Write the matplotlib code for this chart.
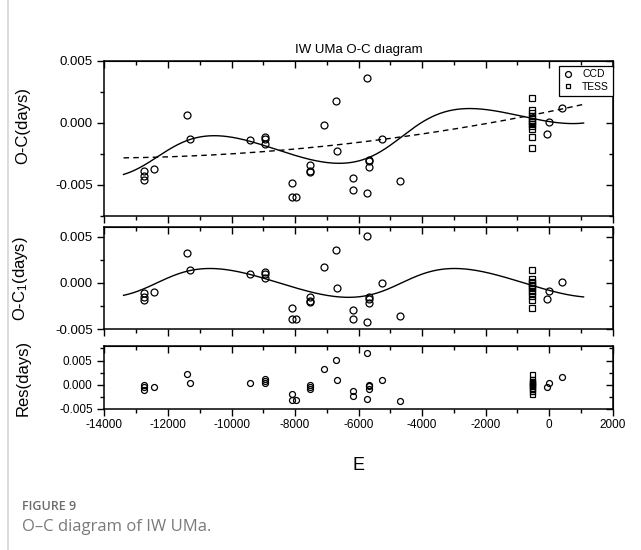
import numpy as np
import matplotlib
matplotlib.use("Agg")
import matplotlib.pyplot as plt
from matplotlib.ticker import MultipleLocator

plt.rcParams["font.family"] = ["Liberation Sans", "DejaVu Sans"]
plt.rcParams["mathtext.default"] = "regular"
plt.rcParams["axes.unicode_minus"] = False

# CCD minima: epoch, O-C, O-C1 (after quadratic), residuals
e_ccd = [-12746, -12746, -12746, -12431, -11411, -11298, -9427, -8935, -8935, -8935,
         -8104, -8085, -7968, -7537, -7537, -7537, -7087, -6699, -6677, -6183, -6183,
         -5742, -5723, -5679, -5679, -5679, -5269, -4693, -85, -9, 400]
oc_ccd = [-0.00389, -0.00427, -0.00465, -0.00373, 0.00062, -0.00129, -0.00137, -0.00113,
          -0.00129, -0.00172, -0.00484, -0.00602, -0.00602, -0.00341, -0.00389, -0.00398,
          -0.00016, 0.00175, -0.00226, -0.00446, -0.00543, -0.00567, 0.00363, -0.00296,
          -0.00310, -0.00355, -0.00132, -0.00468, -0.00086, 0.00006, 0.00123]
oc1_ccd = [-0.00108, -0.00150, -0.00189, -0.00100, 0.00327, 0.00137, 0.00097, 0.00115,
           0.00097, 0.00054, -0.00275, -0.00394, -0.00394, -0.00150, -0.00197, -0.00204,
           0.00172, 0.00352, -0.00054, -0.00293, -0.00387, -0.00423, 0.00510, -0.00150,
           -0.00170, -0.00215, -0.00003, -0.00358, -0.00175, -0.00086, 0.00008]
res_ccd = [-0.0001, -0.0005, -0.0010, -0.0005, 0.0023, 0.0003, 0.0003, 0.00115, 0.0007,
           0.0003, -0.00185, -0.0031, -0.0031, -0.0001, -0.0005, -0.0009, 0.0032, 0.0051,
           0.0010, -0.0013, -0.0023, -0.0029, 0.0066, 0.0000, -0.0003, -0.0008, 0.0010,
           -0.0033, -0.0005, 0.0004, 0.0016]

# TESS minima
e_tess = [-536, -536, -535, -535, -535, -535, -535, -535, -534, -534, -534, -534]
oc_tess = [0.00204, 0.00105, 0.00078, 0.00059, 0.00038, 0.00019, 0.00006, -0.00008,
           -0.00027, -0.00048, -0.00115, -0.00199]
oc1_tess = [0.00137, 0.00037, 0.00010, -0.00006, -0.00020, -0.00035, -0.00060, -0.00086,
            -0.00114, -0.00140, -0.00186, -0.00269]
res_tess = [0.0022, 0.0012, 0.0008, 0.0005, 0.0003, 0.0001, -0.0001, -0.0003, -0.0006,
            -0.0009, -0.0013, -0.0019]

# fitted models: quadratic ephemeris term and light-travel-time orbit
quad_coef = [0.00091, 5.24e-7, 1.83e-11]          # c0, c1, c2
lite_amp, lite_ecc, lite_omega = 0.00159, 0.21, 0.0
lite_period, lite_t0 = 7700.0, -4650.0
fit_range = (-13400, 1080)


def quadratic(E):
    return quad_coef[0] + quad_coef[1] * E + quad_coef[2] * E ** 2


def lite(E):
    M = 2 * np.pi * (E - lite_t0) / lite_period
    ecc_an = M.copy()
    for _ in range(40):
        ecc_an = ecc_an - (ecc_an - lite_ecc * np.sin(ecc_an) - M) / (1 - lite_ecc * np.cos(ecc_an))
    nu = 2 * np.arctan(np.sqrt((1 + lite_ecc) / (1 - lite_ecc)) * np.tan(ecc_an / 2))
    r = (1 - lite_ecc ** 2) / (1 + lite_ecc * np.cos(nu))
    return lite_amp * (r * np.sin(nu + lite_omega) + lite_ecc * np.sin(lite_omega))


Ef = np.linspace(fit_range[0], fit_range[1], 600)

fig = plt.figure(figsize=(6.41, 5.5), dpi=100)
left, width = 0.163, 0.793
ax1 = fig.add_axes([left, 0.6078, width, 0.2813])
ax2 = fig.add_axes([left, 0.4013, width, 0.1855])
ax3 = fig.add_axes([left, 0.2564, width, 0.1145])

mk = dict(linestyle="none", markerfacecolor="none", markeredgecolor="black", markeredgewidth=0.9)

ax1.plot(e_ccd, oc_ccd, "o", markersize=5, label="CCD", **mk)
ax1.plot(e_tess, oc_tess, "s", markersize=4.2, label="TESS", **mk)
ax1.plot(Ef, quadratic(Ef), "k--", lw=1.0, dashes=(4, 3))
ax1.plot(Ef, quadratic(Ef) + lite(Ef), "k-", lw=1.0)
ax1.set_ylim(-0.0075, 0.005)
ax1.set_title("IW UMa O-C dıagram", fontsize=9.5, pad=6)
ax1.set_ylabel("O-C(days)", fontsize=12)
leg = ax1.legend(loc="upper right", bbox_to_anchor=(1.0, 0.97), borderaxespad=0,
                 fontsize=7.5, fancybox=False, edgecolor="black", framealpha=1,
                 handlelength=1.0, handletextpad=0.9, borderpad=0.35, labelspacing=0.25,
                 markerscale=0.85)
leg.get_frame().set_linewidth(0.9)

ax2.plot(e_ccd, oc1_ccd, "o", markersize=5, **mk)
ax2.plot(e_tess, oc1_tess, "s", markersize=4.2, **mk)
ax2.plot(Ef, lite(Ef), "k-", lw=1.0)
ax2.set_ylim(-0.005, 0.006)
ax2.set_ylabel("O-C$_1$(days)", fontsize=12)

ax3.plot(e_ccd, res_ccd, "o", markersize=4.3, **mk)
ax3.plot(e_tess, res_tess, "s", markersize=3.6, **mk)
ax3.set_ylim(-0.005, 0.008)
ax3.set_ylabel("Res(days)", fontsize=12)
ax3.set_xlabel("E", fontsize=13, labelpad=19)

for ax in (ax1, ax2, ax3):
    ax.set_xlim(-14000, 2000)
    ax.xaxis.set_major_locator(MultipleLocator(2000))
    ax.xaxis.set_minor_locator(MultipleLocator(1000))
    ax.yaxis.set_major_locator(MultipleLocator(0.005))
    ax.yaxis.set_minor_locator(MultipleLocator(0.0025))
    ax.yaxis.set_major_formatter(plt.FormatStrFormatter("%.3f"))
    ax.tick_params(which="both", direction="out", width=1.0, labelsize=9.5)
    ax.tick_params(which="major", length=5)
    ax.tick_params(which="minor", length=3)
    for s in ax.spines.values():
        s.set_linewidth(1.1)
    # mirrored ticks on top and right pointing into the frame
    top = ax.secondary_xaxis("top")
    top.xaxis.set_major_locator(MultipleLocator(2000))
    top.xaxis.set_minor_locator(MultipleLocator(1000))
    top.tick_params(which="both", direction="in", width=1.0, labeltop=False)
    top.tick_params(which="major", length=5)
    top.tick_params(which="minor", length=3)
    right = ax.secondary_yaxis("right")
    right.yaxis.set_major_locator(MultipleLocator(0.005))
    right.yaxis.set_minor_locator(MultipleLocator(0.0025))
    right.tick_params(which="both", direction="in", width=1.0, labelright=False)
    right.tick_params(which="major", length=5)
    right.tick_params(which="minor", length=3)

ax1.yaxis.set_label_coords(-0.146, 0.58)
ax2.yaxis.set_label_coords(-0.146, 0.5)
ax3.yaxis.set_label_coords(-0.146, 0.5)
ax1.tick_params(labelbottom=False)
ax2.tick_params(labelbottom=False)
ax3.tick_params(labelsize=8.5)
ax3.tick_params(axis="x", pad=2)

# caption of the figure card
fig.add_artist(plt.Line2D([8 / 641, 8 / 641], [0, 1], color="#d6d6d6", lw=1.2))
fig.text(22 / 641, 1 - 506 / 550, "FIGURE 9", fontsize=9, color="#6d6d6d",
         family=["Open Sans", "DejaVu Sans"], weight="semibold", va="center")
fig.text(22 / 641, 1 - 527 / 550, "O\u2013C diagram of IW UMa.", fontsize=12, color="#7a7a7a",
         family=["Open Sans", "DejaVu Sans"], va="center")

fig.savefig("out.png", dpi=100)
